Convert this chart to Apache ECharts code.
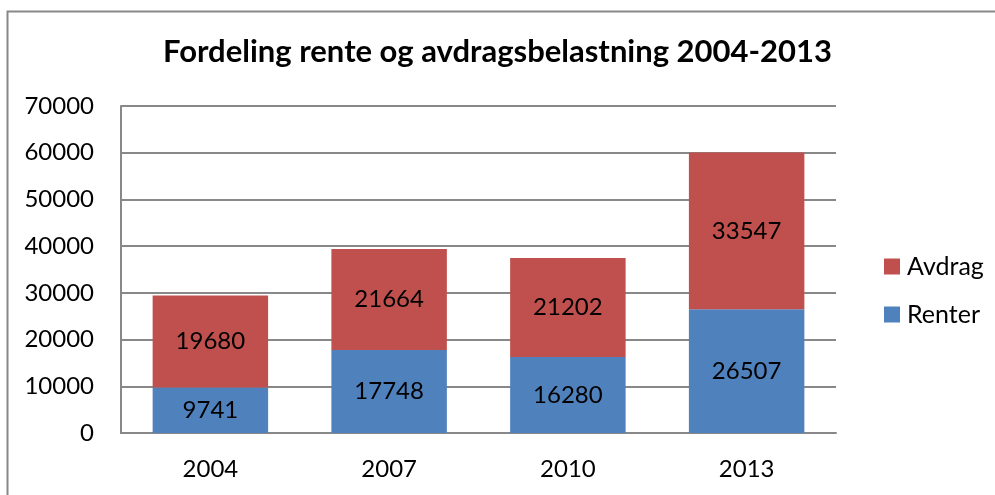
<!DOCTYPE html>
<html>
<head>
<meta charset="utf-8">
<script src="https://cdn.jsdelivr.net/npm/echarts@6/dist/echarts.min.js"></script>
<style>html,body{margin:0;padding:0;background:#fff;}#c{width:995px;height:495px;}</style>
</head>
<body>
<div id="c"></div>
<script>
const categories = ['2004', '2007', '2010', '2013'];
const renter = [9741, 17748, 16280, 26507];
const avdrag = [19680, 21664, 21202, 33547];
const yTicks = [0, 10000, 20000, 30000, 40000, 50000, 60000, 70000];
const titleText = 'Fordeling rente og avdragsbelastning 2004-2013';

const FONT = 'Lato';
const chart = echarts.init(document.getElementById('c'), null, {renderer: 'canvas'});
chart.setOption({
  animation: false,
  backgroundColor: '#fff',
  title: {
    text: titleText,
    left: 'center',
    top: 31,
    textStyle: {fontFamily: FONT, fontWeight: 'bold', fontSize: 31, color: '#000'}
  },
  graphic: [{
    type: 'rect', silent: true,
    shape: {x: 7.5, y: 11.5, width: 1000, height: 500},
    style: {fill: 'none', stroke: '#888', lineWidth: 2}
  }],
  legend: {
    orient: 'vertical',
    left: 879,
    top: 249,
    itemWidth: 16,
    itemHeight: 16,
    itemGap: 23,
    icon: 'rect',
    data: ['Avdrag', 'Renter'],
    textStyle: {fontFamily: FONT, fontSize: 25, color: '#000', padding: [0, 0, 0, 2]}
  },
  grid: {left: 121, right: 159, top: 106, bottom: 62, containLabel: false},
  xAxis: {
    type: 'category',
    data: categories,
    axisLine: {lineStyle: {color: '#888', width: 2}},
    axisTick: {show: false},
    axisLabel: {fontFamily: FONT, fontSize: 24, color: '#000', margin: 24}
  },
  yAxis: {
    type: 'value',
    min: yTicks[0],
    max: yTicks[yTicks.length - 1],
    interval: 10000,
    axisLine: {show: true, lineStyle: {color: '#888', width: 2}},
    axisTick: {show: false},
    splitLine: {lineStyle: {color: '#888', width: 2}},
    axisLabel: {fontFamily: FONT, fontSize: 24, color: '#000', margin: 27, formatter: v => String(v)}
  },
  series: [
    {
      name: 'Renter', type: 'bar', stack: 'a', data: renter,
      barCategoryGap: '35.4%',
      itemStyle: {color: '#4F81BD'},
      label: {show: true, position: 'inside', fontFamily: FONT, fontSize: 24, color: '#000'}
    },
    {
      name: 'Avdrag', type: 'bar', stack: 'a', data: avdrag,
      barCategoryGap: '35.4%',
      itemStyle: {color: '#C0504D'},
      label: {show: true, position: 'inside', fontFamily: FONT, fontSize: 24, color: '#000'}
    }
  ]
});
</script>
</body>
</html>
